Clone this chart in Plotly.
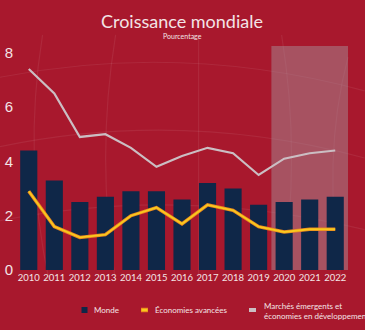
import plotly.graph_objects as go

# Croissance du PIB réel, en pourcentage
years = [2010, 2011, 2012, 2013, 2014, 2015, 2016, 2017, 2018, 2019, 2020, 2021, 2022]
monde = [4.4, 3.3, 2.5, 2.7, 2.9, 2.9, 2.6, 3.2, 3.0, 2.4, 2.5, 2.6, 2.7]
avancees = [2.9, 1.6, 1.2, 1.3, 2.0, 2.3, 1.7, 2.4, 2.2, 1.6, 1.4, 1.5, 1.5]
emergents = [7.4, 6.5, 4.9, 5.0, 4.5, 3.8, 4.2, 4.5, 4.3, 3.5, 4.1, 4.3, 4.4]
y_ticks = [0, 2, 4, 6, 8]
forecast_start, forecast_end = 2019.5, 2022.5

series_names = ["Monde", "Économies avancées",
                "Marchés émergents et<br>économies en développement (EME)"]

BG = "#a8182d"
TXT = "#f3e4e6"
NAVY = "#0f2748"
YELLOW = "#f9c91e"
ORANGE = "#e9861f"
GREY = "#cbbec3"

W, H = 365, 330
ML, MR, MT, MB = 16, 17, 46, 60
PW, PH = W - ML - MR, H - MT - MB


def px(x):
    return (x - ML) / PW


def py(y):
    return (H - MB - y) / PH


fig = go.Figure()

fig.add_trace(go.Bar(
    x=years, y=monde, name=series_names[0],
    marker=dict(color=NAVY, line=dict(width=0)),
    width=0.67,
))
# contour orangé sous la courbe jaune
fig.add_trace(go.Scatter(
    x=years, y=avancees, mode="lines", hoverinfo="skip",
    line=dict(color=ORANGE, width=3.4),
))
fig.add_trace(go.Scatter(
    x=years, y=avancees, name=series_names[1], mode="lines",
    line=dict(color=YELLOW, width=1.8),
))
fig.add_trace(go.Scatter(
    x=years, y=emergents, name=series_names[2], mode="lines",
    line=dict(color=GREY, width=2.2),
))

# zone de prévision
fig.add_shape(type="rect", xref="x", yref="y",
              x0=forecast_start, x1=forecast_end, y0=0, y1=8.25,
              fillcolor="rgba(165,140,150,0.5)", line=dict(width=0), layer="below")

# trame décorative du globe
globe = [
    "M -0.05 0.86 Q 0.5 1.02 1.05 0.80",
    "M -0.05 0.55 Q 0.5 0.72 1.05 0.50",
    "M -0.05 0.22 Q 0.5 0.38 1.05 0.18",
    "M 0.08 1.05 Q 0.02 0.5 0.10 -0.05",
    "M 0.30 1.05 Q 0.24 0.5 0.30 -0.05",
    "M 0.55 1.05 Q 0.55 0.5 0.55 -0.05",
    "M 0.80 1.05 Q 0.86 0.5 0.80 -0.05",
    "M 1.00 0.95 Q 0.92 0.5 0.98 -0.05",
]
for p in globe:
    fig.add_shape(type="path", xref="paper", yref="paper", path=p,
                  line=dict(color="rgba(255,255,255,0.07)", width=1.2), layer="below")

# titre et sous-titre
fig.add_annotation(text="Croissance mondiale", xref="paper", yref="paper",
                   x=px(182), y=py(21), xanchor="center", yanchor="middle",
                   showarrow=False, font=dict(family="Lato", size=18, color=TXT))
fig.add_annotation(text="Pourcentage", xref="paper", yref="paper",
                   x=px(182), y=py(35.5), xanchor="center", yanchor="middle",
                   showarrow=False, font=dict(family="Lato", size=7, color=TXT))

# légende
fig.add_shape(type="rect", xref="paper", yref="paper",
              x0=px(81.5), x1=px(87.5), y0=py(313), y1=py(307),
              fillcolor=NAVY, line=dict(width=0))
fig.add_shape(type="line", xref="paper", yref="paper",
              x0=px(141), x1=px(148), y0=py(310), y1=py(310),
              line=dict(color=ORANGE, width=4.5))
fig.add_shape(type="line", xref="paper", yref="paper",
              x0=px(141.5), x1=px(147.5), y0=py(310), y1=py(310),
              line=dict(color=YELLOW, width=2.5))
fig.add_shape(type="line", xref="paper", yref="paper",
              x0=px(249), x1=px(256), y0=py(310), y1=py(310),
              line=dict(color=GREY, width=4))
legend_pos = [(92, 310), (153, 310), (262, 311)]
for name, (lx, ly) in zip(series_names, legend_pos):
    fig.add_annotation(text=name, xref="paper", yref="paper",
                       x=px(lx), y=py(ly), xanchor="left", yanchor="middle",
                       align="left", showarrow=False,
                       font=dict(family="Lato", size=8, color=TXT))

fig.update_layout(
    width=W, height=H,
    paper_bgcolor=BG, plot_bgcolor="rgba(0,0,0,0)",
    margin=dict(l=ML, r=MR, t=MT, b=MB, autoexpand=False),
    showlegend=False,
    bargap=0.33,
    xaxis=dict(
        range=[2009.5, 2022.5], tickmode="array", tickvals=years,
        ticktext=[str(y) for y in years], showgrid=False, zeroline=False,
        showline=False, ticks="", tickangle=0,
        tickfont=dict(family="Lato", size=9.5, color=TXT),
    ),
    yaxis=dict(
        range=[0, 8.25], tickmode="array", tickvals=y_ticks,
        showgrid=False, zeroline=False, showline=False, ticks="",
        tickfont=dict(family="Liberation Sans", size=15, color=TXT),
        ticklabelstandoff=2,
    ),
)

fig.write_html("out.html")
